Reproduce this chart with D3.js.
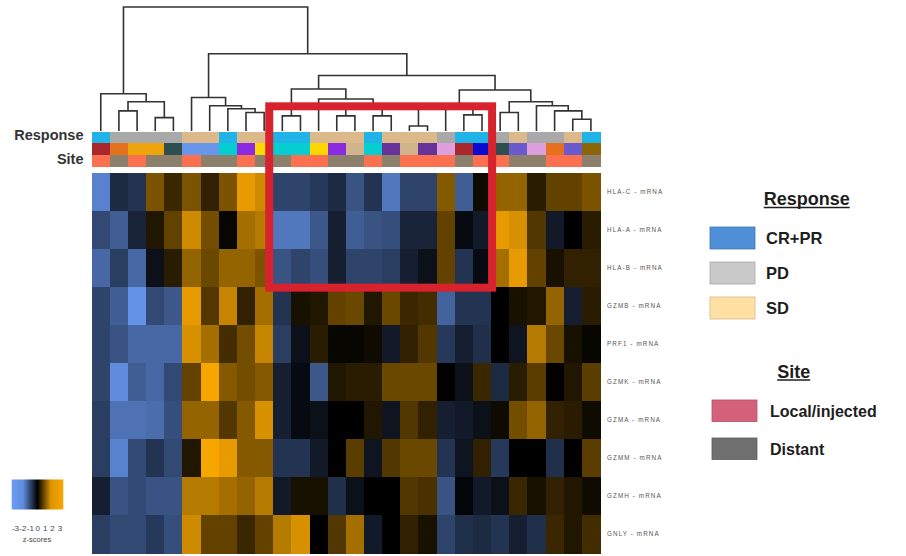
<!DOCTYPE html>
<html><head><meta charset="utf-8">
<script src="https://cdn.jsdelivr.net/npm/d3@7"></script>
<style>
html,body{margin:0;padding:0;background:#fff;}
svg{display:block;font-family:"Liberation Sans",Arial,sans-serif;}
</style></head>
<body>
<svg id="chart" width="906" height="556"></svg>
<script>
// ---------------- DATA ----------------
const genes = ["HLA-C - mRNA","HLA-A - mRNA","HLA-B - mRNA","GZMB - mRNA","PRF1 - mRNA",
               "GZMK - mRNA","GZMA - mRNA","GZMM - mRNA","GZMH - mRNA","GNLY - mRNA"];

const zHLAC = [-2.5,-0.8,-1.0,1.5,0.7,1.5,0.6,1.5,2.8,2.5,-1.3,-1.3,-1.1,-0.8,-1.6,-1.0,-2.3,-1.3,-1.3,1.6,-1.8,0.2,1.8,1.8,0.5,1.2,1.2,1.5];
const zHLAA = [-1.4,-1.8,-0.7,0.4,1.2,2.5,1.4,0.1,2.0,2.2,-2.3,-2.3,-1.7,-0.6,-1.8,-1.6,-1.5,-0.7,-0.7,1.2,-0.2,-0.5,2.8,2.6,1.0,-0.5,0.0,0.5];
const zHLAB = [-2.0,-1.2,-2.0,-0.3,0.5,1.8,1.3,1.8,1.8,1.5,-1.6,-1.3,-1.5,-0.6,-1.3,-1.3,-1.2,-0.6,-0.3,1.2,-1.0,-0.2,2.0,2.8,1.2,0.3,0.6,0.6];
const zGZMB = [-1.3,-1.8,-2.8,-1.4,-1.7,2.8,1.0,2.4,0.6,2.0,-1.0,0.3,0.4,1.2,1.3,0.4,1.3,0.7,0.8,-1.9,-1.0,-1.0,0.0,0.3,0.4,1.8,-0.6,0.5];
const zPRF1 = [-1.3,-1.6,-2.0,-2.0,-2.0,2.6,2.0,0.8,1.4,2.4,-1.2,-0.3,0.5,0.1,0.1,0.2,-0.5,0.6,1.0,-1.1,-0.6,-0.9,0.0,-0.4,2.2,1.3,0.3,0.1];
const zGZMK = [-1.3,-2.7,-1.8,-2.0,-1.4,1.2,3.0,1.6,1.4,1.6,-0.6,-0.2,-1.7,0.4,0.5,0.5,1.3,1.3,1.3,0.0,-0.3,0.7,-0.8,0.5,1.1,0.0,0.4,1.1];
const zGZMA = [-1.2,-2.2,-2.2,-2.1,-1.5,1.8,1.8,1.0,1.6,2.6,-0.6,-0.2,-0.3,0.0,0.0,0.4,-0.4,1.0,0.6,-0.6,-0.5,-0.3,0.2,1.4,1.8,0.6,0.5,0.2];
const zGZMM = [-1.2,-2.5,-1.4,-1.0,-1.4,0.4,3.0,2.8,1.6,1.6,-1.0,-1.0,-0.5,0.0,1.1,-0.4,1.0,1.3,1.3,-1.0,-0.4,0.6,-1.1,0.0,0.0,-0.9,0.0,1.1];
const zGZMH = [-0.6,-1.6,-1.4,-1.6,-1.6,2.2,2.2,2.0,1.8,2.2,-0.5,0.3,0.3,-0.9,-0.3,0.0,0.0,1.0,0.9,-1.6,-0.1,-0.5,-0.3,0.7,0.3,0.6,0.4,0.2];
const zGNLY = [-1.2,-1.4,-1.4,-1.1,-1.5,2.5,1.2,1.2,0.7,1.2,2.2,2.6,0.0,1.0,2.0,-0.5,0.0,0.6,0.3,-1.3,-0.9,-0.8,-1.0,-0.6,-0.9,0.7,0.4,0.8];
const zScores = [zHLAC,zHLAA,zHLAB,zGZMB,zPRF1,zGZMK,zGZMA,zGZMM,zGZMH,zGNLY];

const response = ["CR+PR","PD","PD","PD","PD","SD","SD","CR+PR","SD","SD","CR+PR","CR+PR","SD","SD",
                  "SD","CR+PR","SD","SD","SD","PD","CR+PR","CR+PR","PD","SD","PD","PD","SD","CR+PR"];
const subtype = ["t1","t2","t3","t3","t4","t5","t5","t6","t7","t8","t6","t6","t8","t7",
                 "t9","t6","t10","t9","t10","t11","t1","t12","t4","t13","t11","t2","t13","t14"];
const site = ["Local/injected","Distant","Local/injected","Distant","Distant","Local/injected","Distant","Distant",
              "Local/injected","Distant","Distant","Local/injected","Local/injected","Distant","Distant",
              "Local/injected","Distant","Local/injected","Local/injected","Local/injected","Distant",
              "Local/injected","Local/injected","Distant","Distant","Local/injected","Local/injected","Distant"];

// hierarchical clustering merges (hclust style: negative = leaf column, positive = earlier merge), merge heights
const mergeLeft   = [-2,-4,1,-1,-9,-8,-7,-6,-11,-14,-16,-18,11,10,-13,9,-21,-20,-23,-27,-26,-25,19,18,16,8,4];
const mergeRight  = [-3,-5,2,3,-10,5,6,7,-12,-15,-17,-19,12,13,14,15,-22,17,-24,-28,20,21,22,23,24,25,26];
const mergeHeight = [20,13.3,29,37,18.3,22,25,33.3,15,15,15,5,23,27,31.7,41.7,16,24,18.3,11.7,20,25,29,40.7,55,76.7,123];

const zTicks = [-3,-2,-1,0,1,2,3];
const responseLegend = ["CR+PR","PD","SD"];
const siteLegend = ["Local/injected","Distant"];

// ---------------- STYLES ----------------
const responseBarColor = {"CR+PR":"#1fb3e8","PD":"#a9a9a9","SD":"#dcb98a"};
const responseLegendColor = {"CR+PR":"#4f8fd7","PD":"#c9c9c9","SD":"#fde0a2"};
const siteBarColor = {"Local/injected":"#fb7150","Distant":"#8c7f6c"};
const siteLegendColor = {"Local/injected":"#d4617a","Distant":"#6f6f6f"};
const subtypeColor = {t1:"#a8282c",t2:"#e5711f",t3:"#eea50c",t4:"#2f4f4f",t5:"#6896ea",t6:"#06cdd0",
  t7:"#8a2be2",t8:"#ffd700",t9:"#d2b48c",t10:"#663399",t11:"#dda0dd",t12:"#0a0ad0",t13:"#6a5acd",t14:"#8b6508"};

const svg = d3.select("#chart");
const nCol = zHLAC.length;

const x = d3.scaleBand().domain(d3.range(nCol)).range([91.7, 600]);
const y = d3.scaleBand().domain(genes).range([172.5, 553]);
const color = d3.scaleLinear().domain([-3, 0, 3])
  .range(["#6a9cf6", "#000000", "#f7a600"]).clamp(true);

// ---------------- HEATMAP ----------------
const cells = [];
genes.forEach((g, r) => zScores[r].forEach((v, c) => cells.push({g, c, v})));
svg.append("g").selectAll("rect").data(cells).join("rect")
  .attr("x", d => x(d.c)).attr("y", d => y(d.g))
  .attr("width", x.bandwidth() + 0.6).attr("height", y.bandwidth() + 0.6)
  .attr("fill", d => color(d.v))
  .attr("shape-rendering", "crispEdges");

// row labels
svg.append("g").selectAll("text").data(genes).join("text")
  .attr("x", 607).attr("y", d => y(d) + y.bandwidth() / 2 + 2)
  .attr("font-size", 6.3).attr("letter-spacing", 1.1).attr("fill", "#555")
  .text(d => d);

// ---------------- ANNOTATION BARS ----------------
const annRows = [
  {vals: response, col: d => responseBarColor[d], y0: 132, y1: 143},
  {vals: subtype, col: d => subtypeColor[d], y0: 143, y1: 155},
  {vals: site, col: d => siteBarColor[d], y0: 155, y1: 167}
];
annRows.forEach(a => {
  svg.append("g").selectAll("rect").data(a.vals).join("rect")
    .attr("x", (d, i) => x(i)).attr("y", a.y0)
    .attr("width", x.bandwidth() + 0.6).attr("height", a.y1 - a.y0)
    .attr("fill", a.col).attr("shape-rendering", "crispEdges");
});
svg.append("text").attr("x", 83.5).attr("y", 140).attr("text-anchor", "end")
  .attr("font-size", 14.5).attr("font-weight", "bold").attr("fill", "#333").text("Response");
svg.append("text").attr("x", 83.5).attr("y", 163.5).attr("text-anchor", "end")
  .attr("font-size", 14.5).attr("font-weight", "bold").attr("fill", "#333").text("Site");

// ---------------- DENDROGRAM ----------------
const h = d3.scaleLinear().domain([0, 123]).range([131, 7]);
const nodes = [];
function pos(id) {
  if (id < 0) { const i = -id - 1; return {x: x(i) + x.bandwidth() / 2, y: h(0)}; }
  return nodes[id - 1];
}
const links = [];
mergeLeft.forEach((l, k) => {
  const a = pos(l), b = pos(mergeRight[k]);
  const n = {x: (a.x + b.x) / 2, y: h(mergeHeight[k])};
  nodes.push(n);
  links.push(`M${a.x},${a.y}V${n.y}H${b.x}V${b.y}`);
});
svg.append("g").selectAll("path").data(links).join("path")
  .attr("d", d => d).attr("fill", "none").attr("stroke", "#333").attr("stroke-width", 1.6);

// ---------------- HIGHLIGHT BOX ----------------
const hlCols = [10, 21], hlRows = ["HLA-C - mRNA", "HLA-B - mRNA"];
const bx0 = x(hlCols[0]) - 4, bx1 = x(hlCols[1]) + x.bandwidth() + 1;
const by0 = h(24.5), by1 = y(hlRows[1]) + y.bandwidth() + 1;
svg.append("rect").attr("x", bx0).attr("y", by0).attr("width", bx1 - bx0).attr("height", by1 - by0)
  .attr("fill", "none").attr("stroke", "#d8232e").attr("stroke-width", 8);

// ---------------- LEGENDS ----------------
const lg = svg.append("g").attr("fill", "#1e1e1e").attr("font-weight", "bold");
function header(txt, cx, by) {
  const t = lg.append("text").attr("x", cx).attr("y", by).attr("text-anchor", "middle")
    .attr("font-size", 18).text(txt);
  const w = t.node().getComputedTextLength();
  lg.append("line").attr("x1", cx - w / 2).attr("x2", cx + w / 2).attr("y1", by + 2.5).attr("y2", by + 2.5)
    .attr("stroke", "#1e1e1e").attr("stroke-width", 1.4);
}
header("Response", 806.7, 205);
const ry = d3.scalePoint().domain(responseLegend).range([227, 297]);
responseLegend.forEach(k => {
  lg.append("rect").attr("x", 710).attr("y", ry(k)).attr("width", 45).attr("height", 22)
    .attr("fill", responseLegendColor[k]).attr("stroke", d3.color(responseLegendColor[k]).darker(0.5)).attr("stroke-width", 0.8);
  lg.append("text").attr("x", 766).attr("y", ry(k) + 17).attr("font-size", 16.5).text(k);
});
header("Site", 793.7, 377.5);
const sy = d3.scalePoint().domain(siteLegend).range([400, 438]);
siteLegend.forEach(k => {
  lg.append("rect").attr("x", 712).attr("y", sy(k)).attr("width", 45).attr("height", 21.5)
    .attr("fill", siteLegendColor[k]).attr("stroke", d3.color(siteLegendColor[k]).darker(0.5)).attr("stroke-width", 0.8);
  lg.append("text").attr("x", 770).attr("y", sy(k) + 16.5).attr("font-size", 16).text(k);
});

// ---------------- COLOR KEY ----------------
const defs = svg.append("defs");
const grad = defs.append("linearGradient").attr("id", "zgrad");
[[0, -3], [22, -2.7], [50, 0], [76, 2.7], [100, 3]].forEach(([o, v]) =>
  grad.append("stop").attr("offset", o + "%").attr("stop-color", color(v)));
svg.append("rect").attr("x", 11.7).attr("y", 479.5).attr("width", 51.6).attr("height", 30)
  .attr("fill", "url(#zgrad)");
const kx = d3.scaleLinear().domain([-3, 3]).range([15.5, 60]);
svg.append("g").selectAll("text").data(zTicks).join("text")
  .attr("x", d => kx(d)).attr("y", 530.5).attr("text-anchor", "middle")
  .attr("font-size", 8).attr("fill", "#444").text(d => d);
svg.append("text").attr("x", 37).attr("y", 541.5).attr("text-anchor", "middle")
  .attr("font-size", 7.5).attr("fill", "#444").text("z-scores");
</script>
</body></html>
